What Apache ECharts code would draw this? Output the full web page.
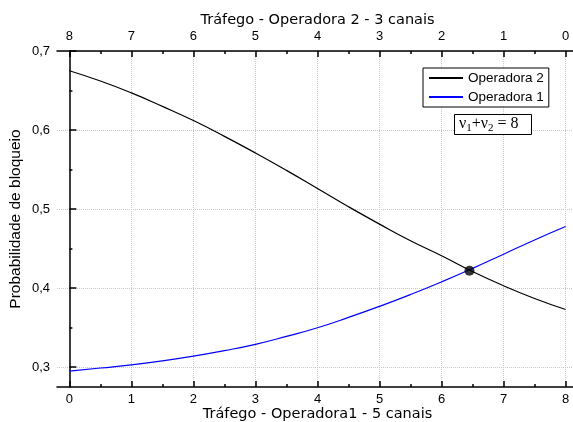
<!DOCTYPE html>
<html>
<head>
<meta charset="utf-8">
<script src="https://cdn.jsdelivr.net/npm/echarts@6/dist/echarts.min.js"></script>
<style>
  html, body { margin: 0; padding: 0; background: #fff; }
  #chart { width: 573px; height: 422px; }
</style>
</head>
<body>
<div id="chart"></div>
<script>
// tráfego da operadora 1 (eixo inferior)
var trafego = [0, 0.5, 1, 1.5, 2, 2.5, 3, 3.5, 4, 4.5, 5, 5.5, 6, 6.5, 7, 7.5, 8];
var operadora2 = [0.675, 0.662, 0.647, 0.630, 0.612, 0.592, 0.571, 0.549, 0.526, 0.503, 0.481, 0.460, 0.441, 0.421, 0.403, 0.387, 0.373];
var operadora1 = [0.295, 0.299, 0.303, 0.308, 0.314, 0.321, 0.329, 0.339, 0.350, 0.363, 0.377, 0.392, 0.408, 0.425, 0.443, 0.461, 0.478];
var cruzamento = [6.45, 0.422];

var xTicks = [0, 1, 2, 3, 4, 5, 6, 7, 8];
var xMinor = [0.5, 1.5, 2.5, 3.5, 4.5, 5.5, 6.5, 7.5];
var yTicks = [0.3, 0.4, 0.5, 0.6, 0.7];
var yMinor = [0.35, 0.45, 0.55, 0.65];

function pares(ys) {
    return trafego.map(function (x, i) { return [x, ys[i]]; });
}

var eixo = { color: "#000", width: 1.5 };
var rotulo = { color: "#000", fontFamily: "Liberation Sans", fontSize: 13 };

function xAxisBase(pos, inverse, main) {
    return {
        type: "value",
        position: pos,
        inverse: inverse,
        min: -0.2,
        max: 8.2,
        axisLine: { show: main, lineStyle: eixo },
        axisTick: {
            inside: true,
            length: main ? 6 : 3,
            lineStyle: eixo,
            customValues: main ? xTicks : xMinor
        },
        axisLabel: main ? Object.assign({ customValues: xTicks, margin: 6 }, rotulo) : { show: false },
        splitLine: { show: false }
    };
}

var chart = echarts.init(document.getElementById("chart"));

var eixoInferior = xAxisBase("bottom", false, true);
eixoInferior.name = "Tráfego - Operadora1 - 5 canais";
eixoInferior.nameLocation = "middle";
eixoInferior.nameGap = 20;
eixoInferior.nameMoveOverlap = false;
eixoInferior.nameTextStyle = { color: "#000", fontFamily: "DejaVu Sans", fontSize: 14.5 };
eixoInferior.splitLine = { show: true, lineStyle: { color: "#c8c8c8", type: "dotted", width: 1 } };

var eixoSuperior = xAxisBase("top", true, true);
eixoSuperior.name = "Tráfego - Operadora 2 - 3 canais";
eixoSuperior.nameLocation = "middle";
eixoSuperior.nameGap = 23;
eixoSuperior.nameMoveOverlap = false;
eixoSuperior.nameTextStyle = { color: "#000", fontFamily: "DejaVu Sans", fontSize: 14.5 };
eixoSuperior.axisLabel.margin = 8;

var option = {
    backgroundColor: "#fff",
    animation: false,
    grid: { left: 57, top: 51, right: -5, bottom: 35, outerBoundsMode: "none", containLabel: false },
    title: {
        text: "{n|ν}{s|1}{n|+ν}{s|2}{n| = 8}",
        left: 454,
        top: 112,
        padding: [2, 13, 1, 5],
        borderColor: "#000",
        borderWidth: 1,
        backgroundColor: "#fff",
        textStyle: {
            rich: {
                n: { fontFamily: "Liberation Serif", fontSize: 16, fontWeight: "normal", color: "#000", lineHeight: 20, verticalAlign: "middle" },
                s: { fontFamily: "Liberation Serif", fontSize: 11, fontWeight: "normal", color: "#000", lineHeight: 20, verticalAlign: "bottom" }
            }
        }
    },
    legend: {
        data: ["Operadora 2", "Operadora 1"],
        orient: "vertical",
        left: 423,
        top: 68,
        itemWidth: 34,
        itemHeight: 14,
        itemGap: 5,
        padding: [3, 5, 3, 5],
        borderColor: "#000",
        borderWidth: 1,
        borderRadius: 0,
        backgroundColor: "#fff",
        itemStyle: { opacity: 0 },
        textStyle: { color: "#000", fontFamily: "Liberation Sans", fontSize: 13.5 }
    },
    xAxis: [eixoInferior, xAxisBase("bottom", false, false), eixoSuperior, xAxisBase("top", true, false)],
    yAxis: [{
        type: "value",
        min: 0.275,
        max: 0.7,
        name: "Probabilidade de bloqueio",
        nameLocation: "middle",
        nameGap: 33,
        nameMoveOverlap: false,
        nameTextStyle: { color: "#000", fontFamily: "Liberation Sans", fontSize: 15.5 },
        axisLine: { show: true, lineStyle: eixo },
        axisTick: { inside: true, length: 7, lineStyle: eixo, customValues: yTicks },
        axisLabel: Object.assign({
            customValues: yTicks,
            margin: 7,
            formatter: function (v) { return v.toFixed(1).replace(".", ","); }
        }, rotulo),
        splitLine: { show: true, lineStyle: { color: "#c8c8c8", type: "dotted", width: 1 } }
    }, {
        type: "value",
        position: "left",
        min: 0.275,
        max: 0.7,
        axisLine: { show: false },
        axisTick: { inside: true, length: 3, lineStyle: eixo, customValues: yMinor },
        axisLabel: { show: false },
        splitLine: { show: false }
    }],
    series: [{
        name: "Operadora 2",
        type: "line",
        data: pares(operadora2),
        smooth: true,
        symbol: "none",
        lineStyle: { color: "#000", width: 1.2 },
        itemStyle: { color: "#000" },
        z: 3
    }, {
        name: "Operadora 1",
        type: "line",
        data: pares(operadora1),
        smooth: true,
        symbol: "none",
        lineStyle: { color: "#0000ff", width: 1.2 },
        itemStyle: { color: "#0000ff" },
        z: 3
    }, {
        name: "cruzamento",
        type: "scatter",
        data: [cruzamento],
        symbolSize: 10,
        itemStyle: { color: "#000" },
        z: 4
    }]
};
chart.setOption(option);
</script>
</body>
</html>
